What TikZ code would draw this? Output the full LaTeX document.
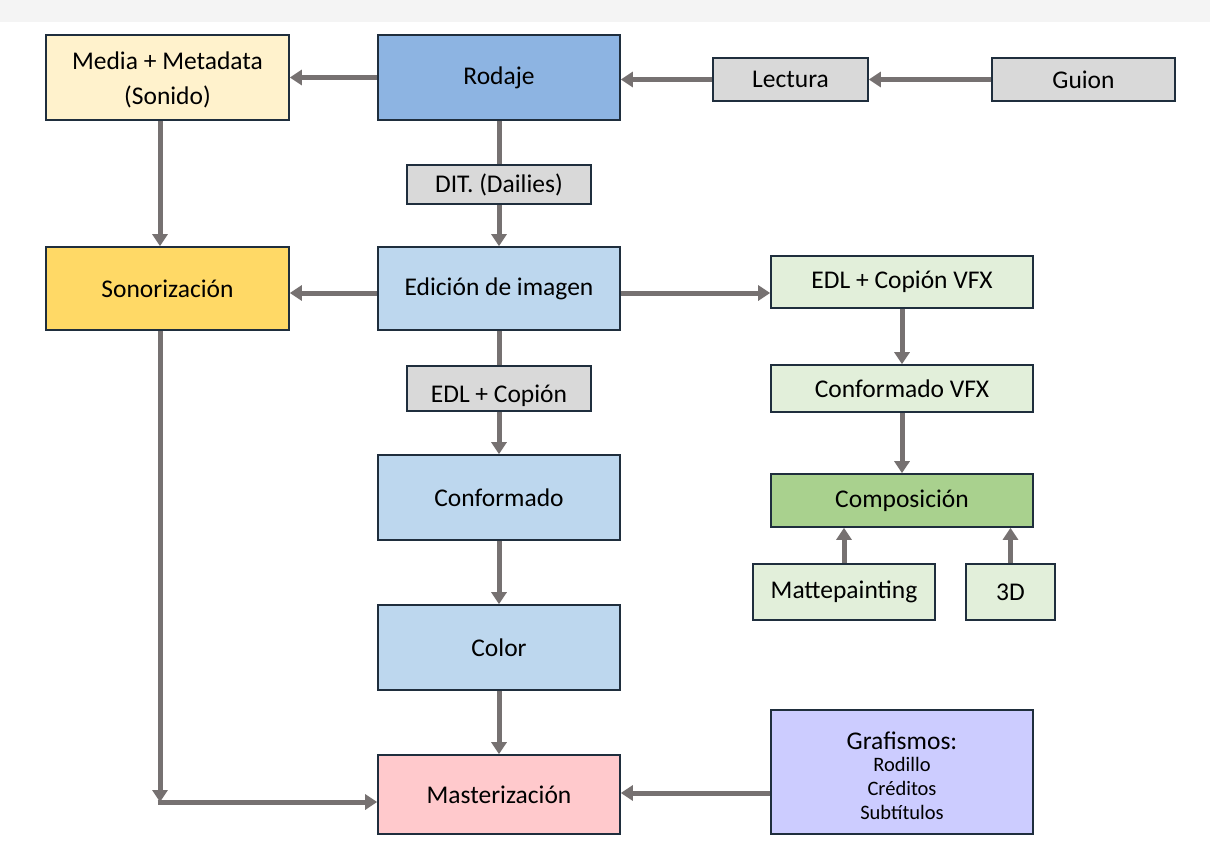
\documentclass[tikz,border=0pt]{standalone}
\usepackage{fontspec}
\setmainfont{Carlito}
\usetikzlibrary{arrows.meta,positioning}
\definecolor{bordc}{HTML}{1F2E3D}
\definecolor{arrc}{HTML}{767171}
\definecolor{cmedia}{HTML}{FFF2CC}
\definecolor{crodaje}{HTML}{8DB4E2}
\definecolor{cgray}{HTML}{D9D9D9}
\definecolor{cblue}{HTML}{BDD7EE}
\definecolor{csonor}{HTML}{FFD966}
\definecolor{cgreenl}{HTML}{E2EFDA}
\definecolor{cgreen}{HTML}{A9D18E}
\definecolor{cgraf}{HTML}{CCCCFF}
\definecolor{cmaster}{HTML}{FFC9CC}
\definecolor{cband}{HTML}{F4F4F4}
\newcommand{\subsz}{\fontsize{20.5}{24}\selectfont}
\tikzset{
  box/.style={draw=bordc, line width=1.6pt, rectangle, inner sep=0pt, align=center,
    font=\fontsize{25.5}{35}\selectfont, text=black},
  flow/.style={draw=arrc, line width=5pt, -{Triangle[length=12pt,width=15pt]}},
  plain/.style={draw=arrc, line width=5pt},
}
\begin{document}
\begin{tikzpicture}[x=1pt,y=-1pt]
\useasboundingbox (0,0) rectangle (1210,854);
\fill[white] (0,0) rectangle (1210,854);
\fill[cband] (0,0) rectangle (1210,22);

\node[box, fill=cmedia, minimum width=243pt, minimum height=85pt] (media) at (167.5,77.5) {\rule{0pt}{23pt}Media + Metadata\\(Sonido)};
\node[box, fill=crodaje, minimum width=242pt, minimum height=85pt] (rodaje) at (499,77.5) {Rodaje};
\node[box, fill=cgray, minimum width=155pt, minimum height=43pt] (lectura) at (790.5,79.5) {Lectura};
\node[box, fill=cgray, minimum width=183pt, minimum height=43pt] (guion) at (1083.5,79.5) {Guion};
\node[box, fill=cgray, minimum width=184pt, minimum height=39pt] (dit) at (499,184.5) {DIT. (Dailies)};
\node[box, fill=cblue, minimum width=242pt, minimum height=83pt] (edicion) at (499,288.5) {Edición de imagen};
\node[box, fill=csonor, minimum width=243pt, minimum height=83pt] (sonor) at (167.5,288.5) {Sonorización};
\node[box, fill=cgreenl, minimum width=262pt, minimum height=52pt] (edlvfx) at (902,282) {EDL + Copión VFX};
\node[box, fill=cgray, minimum width=184pt, minimum height=45pt, text height=28pt, text depth=0pt] (edl) at (499,388.5) {EDL + Copión};
\node[box, fill=cgreenl, minimum width=262pt, minimum height=47pt] (confvfx) at (902,388.5) {Conformado VFX};
\node[box, fill=cblue, minimum width=242pt, minimum height=85pt] (conf) at (499,497.5) {Conformado};
\node[box, fill=cgreen, minimum width=262pt, minimum height=53pt] (compos) at (902,500.5) {Composición};
\node[box, fill=cgreenl, minimum width=182pt, minimum height=56pt] (matte) at (844,592) {Mattepainting};
\node[box, fill=cgreenl, minimum width=89pt, minimum height=56pt] (tresd) at (1010.5,592) {3D};
\node[box, fill=cblue, minimum width=242pt, minimum height=85pt] (color) at (499,647.5) {Color};
\node[box, fill=cgraf, minimum width=262pt, minimum height=124pt, font=\fontsize{25.5}{24}\selectfont] (graf) at (902,772) {\rule{0pt}{26pt}Grafismos:\\[-2pt]\subsz Rodillo\\\subsz Créditos\\\subsz Subtítulos};
\node[box, fill=cmaster, minimum width=242pt, minimum height=79pt] (master) at (499,794.5) {Masterización};

\coordinate (corner) at (160,802);

\draw[flow] (rodaje.west) -- (media.east);
\draw[flow] (lectura.west) -- (lectura.west -| rodaje.east);
\draw[flow] (guion.west) -- (lectura.east);
\draw[plain] (rodaje.south) -- (dit.north);
\draw[flow] (dit.south) -- (edicion.north);
\draw[flow] ([xshift=-7.5pt]media.south) -- ([xshift=-7.5pt]sonor.north);
\draw[flow] ([yshift=-4.5pt]edicion.west) -- ([yshift=-4.5pt]sonor.east);
\draw[flow] ([yshift=-4.5pt]edicion.east) -- ([yshift=-4.5pt]edicion.east -| edlvfx.west);
\draw[flow] (edlvfx.south) -- (confvfx.north);
\draw[flow] (confvfx.south) -- (compos.north);
\draw[flow] (matte.north) -- (matte.north |- compos.south);
\draw[flow] (tresd.north) -- (tresd.north |- compos.south);
\draw[plain] (edicion.south) -- (edl.north);
\draw[flow] (edl.south) -- (conf.north);
\draw[flow] (conf.south) -- (color.north);
\draw[flow] (color.south) -- (master.north);
\draw[flow] ([xshift=-7.5pt]sonor.south) -- (corner);
\draw[flow] ([xshift=-2.5pt]corner) -- (corner -| master.west);
\draw[flow] ([yshift=-21pt]graf.west) -- ([yshift=-21pt]graf.west -| master.east);
\end{tikzpicture}
\end{document}
